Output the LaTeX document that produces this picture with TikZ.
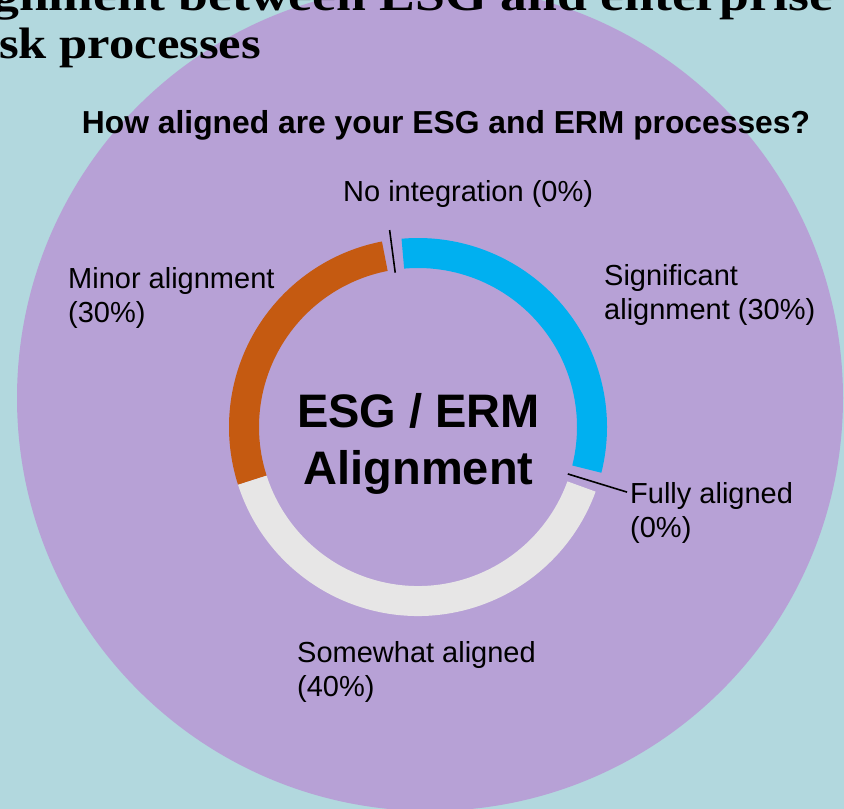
\documentclass[tikz,border=0pt]{standalone}
\usepackage{fontspec}
\setmainfont{Liberation Sans}
\newfontfamily\titlefont{Liberation Serif}
\usetikzlibrary{calc}

\definecolor{bgblue}{HTML}{B2D8DE}
\definecolor{discpurple}{HTML}{B7A1D6}
\definecolor{sliceorange}{HTML}{C55A11}
\definecolor{sliceblue}{HTML}{00B0F0}
\definecolor{slicegray}{HTML}{E7E6E6}

% annular sector of the donut: colour, start angle, end angle
\newcommand\ringseg[3]{%
  \fill[#1] ($(c)+(#2:189)$) arc[start angle=#2, end angle=#3, radius=189]
    -- ($(c)+(#3:159)$) arc[start angle=#3, end angle=#2, radius=159] -- cycle;}

\begin{document}
\begin{tikzpicture}[x=1pt,y=1pt,
  lbl/.style={inner sep=0pt, anchor=base west, align=left,
    font=\fontsize{29}{34}\selectfont},
  titletext/.style={inner sep=0pt, anchor=base west,
    font=\titlefont\bfseries\fontsize{44}{50}\selectfont},
  leader/.style={draw=black, line width=1.6pt},
]
\useasboundingbox (0,0) rectangle (844,-809);
\clip (0,0) rectangle (844,-809);

% backdrop and disc
\fill[bgblue] (0,0) rectangle (844,-809);
\fill[discpurple] (430,-398) circle[radius=413];

% heading (two lines, wide bold serif)
\node[titletext] (title1) at (-8,-10) {\scalebox{1.22}[1]{gnment between ESG and enterprise}};
\node[titletext] (title2) at (-1,-58) {\scalebox{1.15}[1]{sk processes}};

% question
\node[inner sep=0pt, anchor=base, font=\bfseries\fontsize{31.8}{36}\selectfont]
  (question) at (446,-133) {How aligned are your ESG and ERM processes?};

% donut
\coordinate (c) at (418,-427);
\ringseg{sliceorange}{101}{197.8}
\ringseg{slicegray}{197.8}{340}
\ringseg{sliceblue}{-14}{95}

% centre caption (base anchor sits on the last line)
\node[inner sep=0pt, anchor=base, align=center,
  font=\bfseries\fontsize{47}{57}\selectfont] (centre) at (418.5,-484)
  {ESG / ERM\\Alignment};

% slice labels (base anchor sits on the last line)
\node[lbl] (noint) at (343,-201) {No integration (0\%)};
\node[lbl] (minor) at (68,-322) {Minor alignment\\(30\%)};
\node[lbl] (signif) at (604,-319) {Significant\\alignment (30\%)};
\node[lbl] (fully) at (630,-537) {Fully aligned\\(0\%)};
\node[lbl] (somewhat) at (297,-696) {Somewhat aligned\\(40\%)};

% leader lines for the empty slices
\coordinate (nitop) at ($(c)+(98.2:199)$);
\coordinate (nibot) at ($(c)+(98.4:156)$);
\draw[leader] (nibot) -- (nitop);
\coordinate (fain) at ($(c)+(-17.4:157)$);
\coordinate (faout) at ($(c)+(-17.3:219)$);
\draw[leader] (fain) -- (faout);
\end{tikzpicture}
\end{document}
